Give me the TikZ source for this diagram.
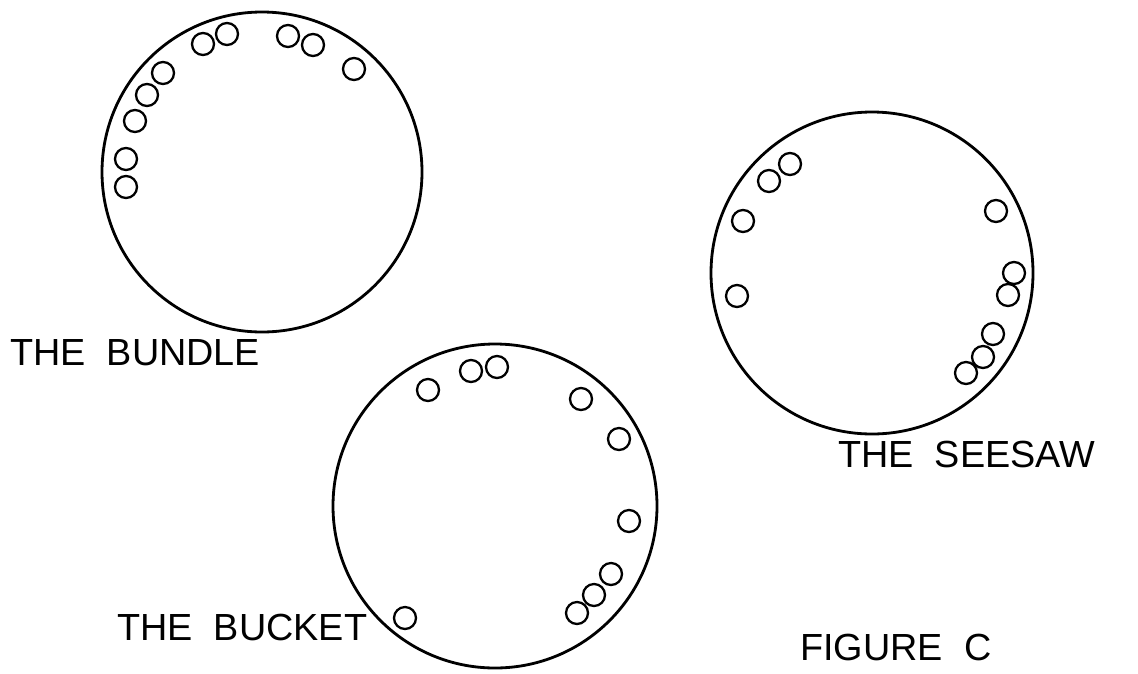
\documentclass[tikz,border=0pt]{standalone}
\usepackage{fontspec}
\newfontfamily\handfont[WordSpace=2]{Liberation Sans}

\begin{document}
\begin{tikzpicture}[x=0.02cm, y=-0.02cm,
  plate/.style={line width=1.6pt},
  ball/.style={line width=1.3pt},
  caption/.style={font=\handfont\fontsize{21.5}{24}\selectfont, anchor=west, inner sep=0pt}]

  \useasboundingbox (0,0) rectangle (1138,673);

  % the bundle: every ball sits on the upper left part of the rim
  \draw[plate] (262,172) circle (160);
  \foreach \x/\y in {227/34,203/44,288/36,313/45,354/69,163/73,147/95,135/121,126/159,126/187}{
    \draw[ball] (\x,\y) circle (11);
  }
  \node[caption] (bundle) at (10,353) {THE BUNDLE};

  % the seesaw: two groups, left and right of the rim
  \draw[plate] (872,273) circle (161);
  \foreach \x/\y in {790/164,769/181,743/221,737/296,996/211,1014/273,1008/295,993/334,983/357,966/373}{
    \draw[ball] (\x,\y) circle (11);
  }
  \node[caption] (seesaw) at (838,454) {THE SEESAW};

  % the bucket: balls round the top and the right side, one stray
  \draw[plate] (495,506) circle (162);
  \foreach \x/\y in {428/390,471/371,497/367,581/399,619/439,629/521,611/574,594/595,577/613,405/618}{
    \draw[ball] (\x,\y) circle (11);
  }
  \node[caption] (bucket) at (117,627) {THE BUCKET};

  \node[caption] (figc) at (800,647) {FIGURE C};

\end{tikzpicture}
\end{document}
